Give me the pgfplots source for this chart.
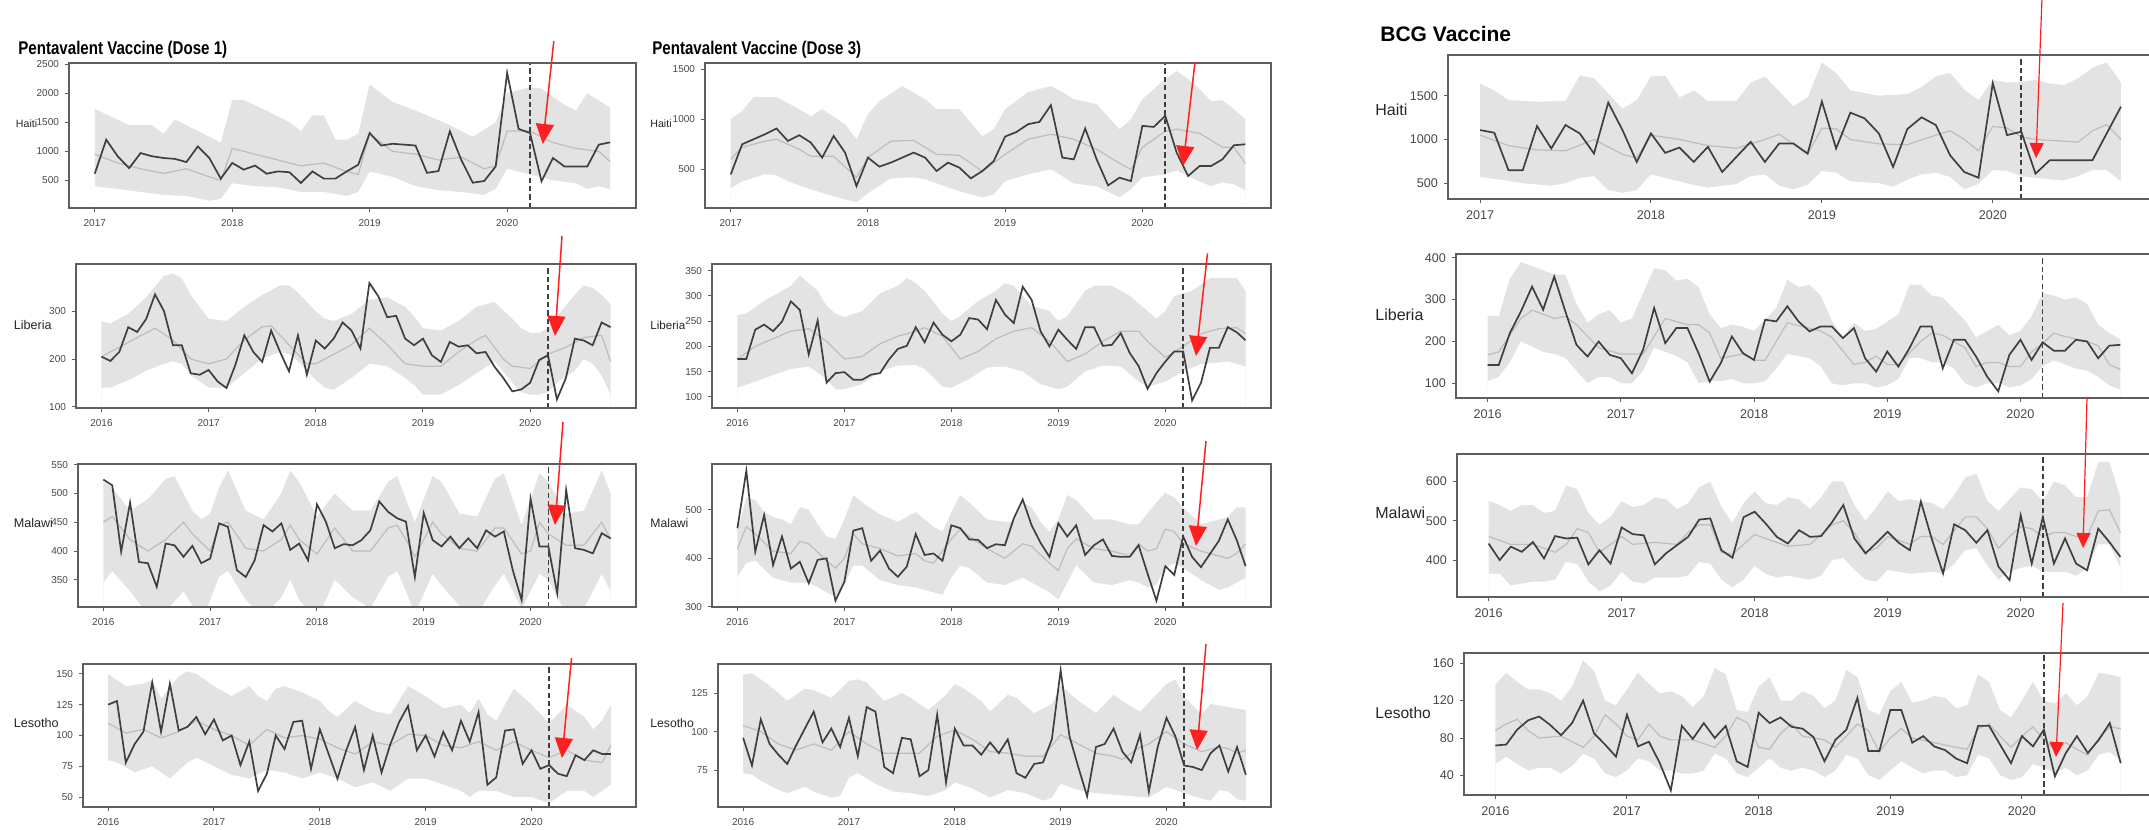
\documentclass[border=0pt]{standalone}
\usepackage{fontspec}
\setmainfont{Liberation Sans}
\usepackage{graphicx}
\usepackage{pgfplots}
\pgfplotsset{compat=1.18}
\usetikzlibrary{arrows.meta}
\definecolor{ribc}{HTML}{E3E3E3}
\definecolor{expc}{HTML}{BDBDBD}
\definecolor{obsc}{HTML}{3F3F3F}
\definecolor{framec}{HTML}{5E5E5E}
\definecolor{arrc}{HTML}{FF1F1F}
\pgfplotsset{
  panel/.style={
    scale only axis, anchor=south west, axis on top,
    axis line style={framec, line width=0.9pt},
    tick align=outside, xtick pos=left, ytick pos=left,
    major tick length=1.8pt,
    every tick/.style={framec, line width=0.5pt},
    /pgf/number format/assume math mode=true,
    /pgf/number format/1000 sep={},
    ticklabel style={font=\fontsize{5}{5}\selectfont, text=black!72},
    yticklabel style={xshift=0.3pt},
    xticklabel style={yshift=-0.5pt},
  },
  big/.style={ticklabel style={font=\fontsize{6.3}{6.3}\selectfont}},
  p16/.style={xmin=-2.85, xmax=59.85, xtick={0,12,24,36,48}, xticklabels={2016,2017,2018,2019,2020}},
  p17/.style={xmin=9.75, xmax=59.25, xtick={12,24,36,48}, xticklabels={2017,2018,2019,2020}},
  hi/.style={fill=ribc, draw=none, no markers},
  lo/.style={fill=white, draw=none, no markers},
  obs/.style={obsc, line width=0.85pt, no markers},
  expl/.style={expc, line width=0.6pt, no markers},
}
\tikzset{
  dsh/.style={obsc, line width=0.8pt, dash pattern=on 2.6pt off 1.6pt},
  arr/.style={arrc, line width=0.75pt, -{Triangle[width=9pt,length=10pt]}},
  arrb/.style={arrc, line width=0.6pt, -{Triangle[width=7pt,length=7.5pt]}},
  lab/.style={anchor=west, inner sep=0pt, text=black!85},
}
\begin{document}
\begin{tikzpicture}

% ---------------- Column 1: Pentavalent Dose 1 ----------------
\begin{axis}[panel, p17, at={(34.5pt,311pt)}, width=283.5pt, height=72.5pt,
  ymin=25, ymax=2520, ytick={500,1000,1500,2000,2500}]
\addplot[hi] coordinates {(12,1730) (15,1450) (17,1450) (18,1300) (19,1550) (21,1350) (23,1150) (24,1880) (25,1880) (27,1700) (29,1500) (30,1350) (31,1620) (32,1620) (33,1200) (34,1200) (35,1300) (36,2150) (38,1850) (40,1700) (41,1620) (43,1450) (45,1250) (47,1500) (48,2000) (50,2100) (51,2080) (53,1800) (54,1700) (55,2000) (57,1750)} \closedcycle;
\addplot[lo] coordinates {(12,400) (14,350) (16,300) (18,250) (20,230) (22,150) (23,180) (24,450) (26,400) (28,380) (30,300) (32,300) (34,230) (35,300) (36,650) (38,560) (40,400) (42,330) (44,300) (46,250) (47,350) (48,700) (50,600) (52,500) (54,450) (55,350) (56,400) (57,350)} \closedcycle;
\addplot[expl] coordinates {(12,950) (14,800) (16,700) (18,620) (20,700) (22,560) (23,500) (24,1050) (26,950) (28,850) (30,750) (32,800) (34,650) (35,600) (36,1300) (38,1000) (40,950) (42,850) (44,900) (46,700) (47,750) (48,1350) (50,1350) (52,1150) (54,1050) (56,1000) (57,820)};
\addplot[obs] coordinates {(12,615) (13,1200) (14,915) (15,710) (16,970) (17,915) (18,885) (19,870) (20,815) (21,1085) (22,885) (23,530) (24,800) (25,685) (26,755) (27,615) (28,655) (29,640) (30,455) (31,655) (32,530) (33,530) (34,655) (35,770) (36,1315) (37,1100) (38,1130) (39,1115) (40,1100) (41,630) (42,660) (43,1345) (44,850) (45,460) (46,490) (47,740) (48,2350) (49,1385) (50,1315) (51,485) (52,885) (53,740) (54,740) (55,740) (56,1115) (57,1155)};
\draw[dsh] (axis cs:50,25) -- (axis cs:50,2520);
\end{axis}

\begin{axis}[panel, p16, at={(38pt,211pt)}, width=280pt, height=72pt,
  ymin=97, ymax=400, ytick={100,200,300}]
\addplot[hi] coordinates {(0,280) (1,275) (3,295) (5,330) (7,375) (8,380) (9,370) (10,335) (12,285) (14,280) (16,310) (18,335) (20,355) (21,355) (22,340) (24,300) (25,285) (26,280) (28,295) (30,325) (32,330) (34,310) (35,290) (36,265) (38,260) (40,280) (42,310) (44,320) (46,285) (47,265) (48,255) (49,255) (50,265) (51,290) (53,335) (54,355) (55,350) (56,335) (57,315)} \closedcycle;
\addplot[lo] coordinates {(0,140) (1,140) (3,155) (5,175) (7,190) (8,195) (9,190) (10,165) (12,140) (14,140) (16,170) (18,200) (20,215) (21,210) (22,195) (24,155) (25,140) (26,135) (28,160) (30,190) (32,185) (34,160) (35,145) (36,125) (38,125) (40,145) (42,170) (44,195) (46,150) (47,130) (48,125) (49,125) (50,130) (51,150) (53,175) (54,200) (55,190) (56,165) (57,125)} \closedcycle;
\addplot[expl] coordinates {(0,205) (3,235) (6,265) (8,240) (10,200) (12,190) (14,200) (16,240) (18,268) (19,270) (21,230) (23,190) (24,190) (26,210) (28,230) (30,265) (32,230) (34,190) (36,185) (38,185) (40,215) (42,240) (43,250) (45,200) (46,185) (48,180) (50,210) (52,225) (54,245) (56,250) (57,195)};
\addplot[obs] coordinates {(0,205) (1,196) (2,215) (3,267) (4,257) (5,284) (6,336) (7,301) (8,229) (9,229) (10,170) (11,167) (12,177) (13,153) (14,139) (15,188) (16,250) (17,215) (18,194) (19,260) (20,215) (21,174) (22,250) (23,167) (24,239) (25,222) (26,243) (27,277) (28,260) (29,222) (30,360) (31,332) (32,288) (33,291) (34,243) (35,229) (36,243) (37,208) (38,194) (39,236) (40,226) (41,229) (42,212) (43,215) (44,184) (45,160) (46,132) (47,136) (48,150) (49,198) (50,208) (51,115) (52,160) (53,243) (54,239) (55,229) (56,277) (57,267)};
\draw[dsh] (axis cs:50,97) -- (axis cs:50,400);
\end{axis}

\begin{axis}[panel, p16, at={(39pt,111.5pt)}, width=279pt, height=71.5pt,
  ymin=303, ymax=551, ytick={350,400,450,500,550}]
\addplot[hi] coordinates {(0,520) (1,510) (3,470) (5,490) (7,525) (8,530) (10,470) (11,455) (12,465) (13,510) (14,540) (16,470) (18,455) (20,500) (21,540) (22,520) (24,460) (26,500) (28,470) (30,470) (32,520) (33,530) (35,450) (37,530) (38,520) (40,465) (42,460) (44,525) (45,535) (47,445) (49,535) (50,520) (52,465) (54,470) (56,540) (57,500)} \closedcycle;
\addplot[lo] coordinates {(0,345) (1,365) (3,330) (5,290) (7,295) (9,330) (10,305) (11,275) (13,355) (14,365) (16,315) (18,285) (20,320) (21,350) (22,315) (24,280) (26,350) (28,320) (30,300) (32,355) (33,365) (34,330) (35,290) (37,360) (38,340) (40,305) (42,290) (44,340) (45,360) (47,300) (49,360) (50,350) (52,290) (54,300) (56,360) (57,330)} \closedcycle;
\addplot[expl] coordinates {(0,450) (1,460) (3,420) (5,400) (7,420) (9,450) (10,430) (12,400) (13,445) (14,450) (16,405) (18,400) (20,420) (21,445) (22,420) (24,395) (26,440) (28,400) (30,400) (32,440) (33,445) (34,420) (35,390) (36,420) (37,450) (38,430) (40,405) (42,400) (44,440) (45,440) (47,395) (48,400) (49,450) (50,430) (52,410) (54,410) (56,450) (57,420)};
\addplot[obs] coordinates {(0,524) (1,514) (2,399) (3,484) (4,381) (5,379) (6,338) (7,413) (8,410) (9,390) (10,409) (11,379) (12,387) (13,448) (14,442) (15,367) (16,355) (17,384) (18,445) (19,434) (20,448) (21,402) (22,413) (23,384) (24,481) (25,451) (26,405) (27,412) (28,410) (29,419) (30,436) (31,486) (32,468) (33,457) (34,451) (35,355) (36,466) (37,419) (38,408) (39,425) (40,405) (41,422) (42,405) (43,436) (44,425) (45,434) (46,367) (47,315) (48,491) (49,408) (50,408) (51,327) (52,506) (53,405) (54,402) (55,396) (56,431) (57,422)};
\draw[dsh] (axis cs:50,303) -- (axis cs:50,551);
\end{axis}

\begin{axis}[panel, p16, at={(41.5pt,11.5pt)}, width=276.5pt, height=71.5pt,
  ymin=42, ymax=158, ytick={50,75,100,125,150}]
\addplot[hi] coordinates {(0,150) (2,140) (4,142) (5,145) (6,130) (8,148) (9,152) (10,150) (12,140) (14,132) (16,140) (17,132) (18,128) (19,138) (20,140) (22,135) (24,128) (25,120) (26,115) (28,128) (30,120) (32,117) (34,140) (36,132) (38,122) (40,125) (41,118) (42,130) (43,117) (44,112) (46,138) (48,125) (50,110) (52,125) (54,115) (55,105) (56,112) (57,125)} \closedcycle;
\addplot[lo] coordinates {(0,80) (1,78) (3,70) (5,75) (7,65) (9,78) (10,82) (12,75) (14,68) (16,65) (18,72) (20,70) (22,65) (24,70) (26,65) (28,58) (30,62) (32,55) (34,65) (36,65) (38,60) (40,55) (41,50) (42,55) (44,55) (46,50) (48,50) (50,45) (52,55) (54,55) (55,50) (56,55) (57,60)} \closedcycle;
\addplot[expl] coordinates {(0,110) (2,102) (4,105) (6,98) (8,103) (10,112) (12,105) (14,100) (16,92) (18,105) (20,98) (22,100) (24,97) (26,90) (28,85) (30,95) (32,92) (34,101) (36,100) (38,92) (40,90) (42,95) (44,88) (46,95) (48,88) (50,82) (52,88) (54,80) (56,78) (57,92)};
\addplot[obs] coordinates {(0,125) (1,128) (2,78) (3,93) (4,103) (5,143) (6,103) (7,142) (8,104) (9,107) (10,115) (11,101) (12,113) (13,96) (14,100) (15,76) (16,95) (17,55) (18,69) (19,100) (20,89) (21,111) (22,112) (23,73) (24,105) (25,85) (26,65) (27,88) (28,107) (29,72) (30,100) (31,70) (32,93) (33,111) (34,124) (35,88) (36,100) (37,83) (38,103) (39,88) (40,112) (41,95) (42,119) (43,60) (44,66) (45,104) (46,105) (47,77) (48,88) (49,73) (50,76) (51,69) (52,67) (53,84) (54,80) (55,88) (56,85) (57,85)};
\draw[dsh] (axis cs:50,42) -- (axis cs:50,158);
\end{axis}

% ---------------- Column 2: Pentavalent Dose 3 ----------------
\begin{axis}[panel, p17, at={(352.5pt,311pt)}, width=283pt, height=72.5pt,
  ymin=115, ymax=1560, ytick={500,1000,1500}]
\addplot[hi] coordinates {(12,1000) (13,1080) (14,1220) (16,1220) (18,1100) (19,1030) (20,1100) (22,950) (23,800) (24,1050) (25,1180) (27,1330) (29,1200) (30,1100) (32,1100) (34,830) (35,900) (36,1100) (38,1270) (40,1330) (41,1270) (42,1200) (44,1150) (46,900) (47,1000) (48,1200) (50,1400) (51,1480) (52,1400) (53,1300) (54,1180) (55,1190) (56,1100) (57,1000)} \closedcycle;
\addplot[lo] coordinates {(12,310) (13,380) (15,450) (16,440) (17,380) (19,300) (21,230) (23,170) (24,260) (26,410) (28,420) (29,400) (30,360) (32,280) (34,220) (35,250) (36,380) (38,450) (40,500) (42,360) (44,330) (46,220) (47,300) (48,420) (50,450) (51,490) (52,430) (54,330) (55,370) (56,350) (57,290)} \closedcycle;
\addplot[expl] coordinates {(12,600) (13,720) (15,780) (16,800) (18,700) (19,630) (21,630) (23,420) (24,620) (26,780) (28,790) (30,650) (32,640) (34,480) (36,650) (38,800) (40,850) (42,800) (44,700) (46,560) (47,500) (48,720) (50,880) (51,900) (53,860) (55,720) (56,720) (57,560)};
\addplot[obs] coordinates {(12,450) (13,750) (14,800) (15,850) (16,907) (17,783) (18,840) (19,767) (20,617) (21,833) (22,667) (23,333) (24,617) (25,527) (26,567) (27,617) (28,667) (29,617) (30,483) (31,567) (32,517) (33,410) (34,483) (35,583) (36,827) (37,873) (38,950) (39,973) (40,1140) (41,617) (42,600) (43,907) (44,600) (45,340) (46,417) (47,383) (48,933) (49,923) (50,1033) (51,667) (52,433) (53,533) (54,533) (55,600) (56,740) (57,750)};
\draw[dsh] (axis cs:50,115) -- (axis cs:50,1560);
\end{axis}

\begin{axis}[panel, p16, at={(356pt,211pt)}, width=279.5pt, height=72pt,
  ymin=78, ymax=363, ytick={100,150,200,250,300,350}]
\addplot[hi] coordinates {(0,262) (1,265) (3,290) (5,310) (6,320) (7,340) (8,325) (9,310) (10,280) (11,265) (12,258) (14,270) (16,305) (18,320) (19,335) (20,325) (21,310) (23,265) (24,250) (25,260) (27,290) (29,310) (30,325) (31,320) (33,280) (35,270) (36,250) (37,260) (39,310) (40,320) (42,320) (44,300) (45,285) (47,255) (48,270) (49,300) (51,310) (53,335) (55,335) (56,335) (57,310)} \closedcycle;
\addplot[lo] coordinates {(0,118) (2,130) (4,143) (6,155) (8,160) (10,135) (11,115) (12,115) (14,125) (16,150) (18,162) (20,163) (21,155) (23,120) (24,118) (26,135) (28,158) (30,160) (32,150) (34,125) (36,115) (37,120) (39,150) (41,162) (43,160) (45,130) (46,120) (48,130) (50,150) (52,165) (54,168) (55,170) (57,160)} \closedcycle;
\addplot[expl] coordinates {(0,175) (2,200) (4,215) (6,230) (8,235) (10,210) (12,175) (14,180) (16,205) (18,220) (20,230) (21,237) (23,220) (25,175) (27,190) (29,215) (31,230) (33,237) (35,210) (37,170) (39,185) (41,210) (43,230) (45,230) (46,210) (48,178) (50,200) (52,225) (54,235) (56,237) (57,225)};
\addplot[obs] coordinates {(0,175) (1,175) (2,233) (3,243) (4,230) (5,249) (6,289) (7,272) (8,184) (9,251) (10,128) (11,147) (12,149) (13,134) (14,134) (15,144) (16,147) (17,174) (18,195) (19,201) (20,238) (21,208) (22,247) (23,223) (24,210) (25,223) (26,256) (27,253) (28,234) (29,292) (30,263) (31,246) (32,318) (33,292) (34,230) (35,200) (36,233) (37,213) (38,195) (39,238) (40,238) (41,201) (42,203) (43,226) (44,187) (45,161) (46,116) (47,147) (48,170) (49,190) (50,190) (51,93) (52,128) (53,197) (54,197) (55,238) (56,228) (57,212)};
\draw[dsh] (axis cs:50,78) -- (axis cs:50,363);
\end{axis}

\begin{axis}[panel, p16, at={(356pt,111.5pt)}, width=279.5pt, height=71.5pt,
  ymin=300, ymax=594, ytick={300,400,500}]
\addplot[hi] coordinates {(0,460) (1,525) (2,520) (3,495) (4,485) (5,480) (6,470) (7,505) (8,500) (9,470) (10,445) (11,440) (12,480) (13,530) (14,515) (16,490) (18,475) (20,495) (21,480) (22,465) (23,455) (24,495) (25,530) (26,515) (28,480) (30,475) (31,475) (32,515) (33,505) (34,475) (35,455) (36,480) (37,530) (38,520) (40,480) (42,480) (44,470) (45,470) (47,515) (48,535) (49,525) (50,505) (52,470) (54,480) (55,485) (56,505) (57,505)} \closedcycle;
\addplot[lo] coordinates {(0,362) (1,390) (2,395) (4,360) (6,350) (8,350) (10,330) (11,320) (12,345) (13,385) (14,385) (16,355) (18,345) (20,340) (22,330) (23,325) (24,360) (25,385) (26,380) (28,350) (30,345) (32,360) (34,340) (35,330) (36,315) (37,350) (38,385) (40,350) (42,345) (44,355) (45,350) (46,340) (47,345) (48,380) (49,390) (50,380) (52,355) (53,345) (54,335) (55,340) (56,350) (57,360)} \closedcycle;
\addplot[expl] coordinates {(0,420) (1,465) (2,450) (4,415) (6,410) (7,435) (8,430) (10,395) (11,380) (12,400) (13,450) (14,430) (16,420) (18,405) (20,410) (21,395) (22,390) (24,440) (25,460) (26,445) (28,420) (30,400) (32,430) (33,425) (35,390) (36,375) (37,420) (38,440) (40,420) (42,415) (44,405) (45,430) (46,415) (47,420) (48,460) (49,455) (50,430) (52,415) (54,405) (55,400) (56,410) (57,430)};
\addplot[obs] coordinates {(0,462) (1,580) (2,414) (3,489) (4,386) (5,445) (6,379) (7,393) (8,349) (9,397) (10,400) (11,313) (12,352) (13,457) (14,462) (15,395) (16,416) (17,379) (18,362) (19,383) (20,450) (21,407) (22,410) (23,395) (24,468) (25,462) (26,439) (27,438) (28,421) (29,429) (30,427) (31,482) (32,521) (33,468) (34,432) (35,403) (36,472) (37,445) (38,468) (39,407) (40,427) (41,439) (42,405) (43,403) (44,403) (45,427) (46,369) (47,313) (48,384) (49,366) (50,445) (51,403) (52,382) (53,409) (54,436) (55,480) (56,438) (57,384)};
\draw[dsh] (axis cs:50,300) -- (axis cs:50,594);
\end{axis}

\begin{axis}[panel, p16, at={(359pt,11.5pt)}, width=276.5pt, height=71.5pt,
  ymin=51, ymax=144, ytick={75,100,125}]
\addplot[hi] coordinates {(0,137) (1,138) (3,130) (5,120) (7,128) (8,127) (10,122) (12,133) (13,134) (14,132) (16,120) (18,125) (19,122) (21,114) (23,124) (24,131) (25,128) (27,120) (28,113) (30,124) (31,122) (33,112) (35,118) (36,130) (38,120) (40,112) (42,124) (43,120) (45,113) (47,125) (48,131) (49,134) (50,123) (52,111) (53,118) (54,117) (56,115) (57,114)} \closedcycle;
\addplot[lo] coordinates {(0,73) (1,72) (2,68) (4,62) (5,60) (7,64) (8,61) (10,57) (11,58) (12,70) (13,73) (15,66) (17,61) (19,60) (21,58) (22,60) (23,62) (24,67) (26,63) (28,57) (30,62) (32,60) (34,55) (35,57) (36,66) (38,62) (40,60) (42,59) (44,58) (46,57) (48,64) (49,62) (51,58) (53,55) (54,62) (55,61) (56,56) (57,55)} \closedcycle;
\addplot[expl] coordinates {(0,104) (2,100) (4,92) (6,88) (8,92) (10,88) (12,100) (14,92) (16,86) (18,86) (20,86) (22,97) (24,101) (26,95) (28,87) (30,86) (32,84) (34,84) (36,98) (38,92) (40,86) (42,84) (43,82) (45,90) (46,92) (48,100) (50,92) (52,87) (54,90) (55,89) (56,86) (57,88)};
\addplot[obs] coordinates {(0,96) (1,78) (2,108) (3,92) (4,85) (5,79) (6,91) (7,102) (8,113) (9,93) (10,102) (11,90) (12,109) (13,84) (14,116) (15,113) (16,77) (17,73) (18,96) (19,95) (20,71) (21,75) (22,111) (23,67) (24,102) (25,91) (26,91) (27,85) (28,93) (29,86) (30,95) (31,73) (32,70) (33,79) (34,80) (35,95) (36,140) (37,97) (38,77) (39,58) (40,90) (41,92) (42,102) (43,87) (44,80) (45,98) (46,61) (47,90) (48,109) (49,97) (50,78) (51,77) (52,75) (53,86) (54,91) (55,74) (56,90) (57,72)};
\draw[dsh] (axis cs:50,51) -- (axis cs:50,144);
\end{axis}

% ---------------- Column 3: BCG ----------------
\begin{axis}[panel, big, p17, at={(724pt,315.5pt)}, width=352.5pt, height=72pt,
  ymin=320, ymax=1965, ytick={500,1000,1500}]
\addplot[hi] coordinates {(12,1640) (13,1560) (14,1450) (16,1430) (18,1440) (19,1730) (20,1700) (22,1350) (23,1450) (24,1720) (25,1730) (26,1480) (27,1560) (28,1440) (30,1440) (31,1650) (32,1720) (34,1380) (35,1480) (36,1880) (37,1760) (38,1560) (40,1500) (42,1520) (43,1600) (44,1720) (45,1760) (46,1570) (47,1450) (48,1680) (49,1650) (50,1660) (51,1680) (52,1640) (53,1620) (54,1700) (55,1820) (56,1880) (57,1650)} \closedcycle;
\addplot[lo] coordinates {(12,570) (13,550) (15,500) (17,470) (18,500) (19,560) (20,580) (21,420) (22,390) (23,420) (24,600) (25,560) (27,480) (28,450) (30,490) (31,580) (32,600) (33,470) (34,430) (35,480) (36,640) (37,620) (38,520) (40,500) (41,460) (42,540) (43,600) (44,620) (45,570) (46,430) (47,490) (48,650) (49,640) (50,580) (51,560) (53,530) (54,580) (55,650) (56,650) (57,520)} \closedcycle;
\addplot[expl] coordinates {(12,1050) (14,930) (16,880) (18,870) (20,1000) (22,830) (23,790) (24,1050) (26,1000) (28,930) (30,900) (32,1000) (33,1060) (35,830) (36,1130) (37,1120) (38,1000) (40,950) (42,940) (44,1050) (45,1100) (46,1000) (47,870) (48,1150) (49,1130) (50,1030) (51,1000) (53,980) (54,970) (55,1100) (56,1170) (57,1000)};
\addplot[obs] coordinates {(12,1107) (13,1077) (14,648) (15,648) (16,1153) (17,897) (18,1165) (19,1069) (20,839) (21,1421) (22,1107) (23,743) (24,1069) (25,847) (26,908) (27,743) (28,916) (29,628) (30,801) (31,973) (32,743) (33,954) (34,954) (35,839) (36,1433) (37,897) (38,1306) (39,1241) (40,1069) (41,686) (42,1119) (43,1253) (44,1165) (45,820) (46,628) (47,563) (48,1643) (49,1050) (50,1088) (51,609) (52,763) (53,763) (54,763) (55,763) (56,1069) (57,1375)};
\draw[dsh] (axis cs:50,320) -- (axis cs:50,1965);
\end{axis}

\begin{axis}[panel, big, p16, at={(728pt,216pt)}, width=348pt, height=72pt,
  ymin=65, ymax=409, ytick={100,200,300,400}]
\addplot[hi] coordinates {(0,262) (1,260) (2,350) (3,390) (5,370) (6,360) (7,360) (8,290) (9,245) (10,265) (11,275) (12,245) (13,255) (15,375) (16,370) (17,345) (18,350) (19,330) (20,265) (21,232) (22,240) (23,235) (24,225) (26,280) (27,348) (28,330) (29,335) (30,310) (31,250) (32,210) (33,245) (34,225) (35,230) (37,265) (38,335) (39,335) (40,310) (41,305) (43,250) (44,210) (45,225) (46,240) (47,215) (48,225) (49,260) (50,315) (51,310) (52,300) (53,305) (54,290) (55,240) (56,220) (57,205)} \closedcycle;
\addplot[lo] coordinates {(0,105) (1,115) (2,150) (3,200) (5,175) (6,170) (7,160) (8,130) (9,100) (10,115) (11,115) (12,100) (13,100) (14,130) (15,185) (16,175) (17,165) (18,150) (19,100) (20,105) (21,105) (22,110) (23,100) (24,100) (25,105) (26,135) (27,170) (28,165) (29,160) (30,140) (31,100) (32,95) (33,100) (34,100) (35,90) (36,95) (37,110) (38,160) (39,160) (40,150) (41,150) (42,135) (43,100) (44,90) (45,100) (46,100) (47,90) (48,95) (49,110) (50,140) (51,155) (52,145) (53,135) (54,130) (55,115) (56,95) (57,85)} \closedcycle;
\addplot[expl] coordinates {(0,168) (1,175) (3,255) (4,275) (6,255) (7,260) (8,240) (10,185) (12,170) (14,170) (16,255) (18,240) (19,240) (20,220) (21,160) (23,170) (24,155) (25,155) (27,245) (28,238) (30,225) (31,210) (33,145) (34,150) (35,165) (36,145) (37,145) (39,200) (40,220) (41,215) (43,185) (44,140) (45,150) (46,150) (47,140) (48,140) (49,175) (50,195) (51,220) (52,212) (54,200) (55,190) (56,145) (57,133)};
\addplot[obs] coordinates {(0,144) (1,144) (2,220) (3,272) (4,331) (5,276) (6,355) (7,272) (8,192) (9,164) (10,200) (11,168) (12,160) (13,124) (14,180) (15,280) (16,196) (17,232) (18,232) (19,172) (20,104) (21,148) (22,212) (23,172) (24,156) (25,252) (26,248) (27,284) (28,248) (29,224) (30,236) (31,236) (32,208) (33,232) (34,160) (35,128) (36,176) (37,140) (38,184) (39,236) (40,236) (41,136) (42,204) (43,204) (44,164) (45,116) (46,81) (47,168) (48,204) (49,156) (50,198) (51,178) (52,178) (53,204) (54,200) (55,160) (56,190) (57,192)};
\draw[dsh] (axis cs:50,65) -- (axis cs:50,409);
\end{axis}

\begin{axis}[panel, big, p16, at={(728.5pt,116.5pt)}, width=347.5pt, height=71.5pt,
  ymin=306, ymax=670, ytick={400,500,600}]
\addplot[hi] coordinates {(0,550) (1,540) (2,525) (3,540) (4,540) (5,520) (6,525) (7,590) (8,580) (9,520) (10,490) (11,510) (12,550) (13,535) (14,540) (15,560) (16,555) (17,530) (18,545) (19,585) (20,600) (21,535) (22,495) (23,545) (24,575) (25,545) (26,540) (27,560) (28,555) (29,530) (30,560) (31,600) (32,600) (33,540) (34,500) (35,535) (36,575) (37,550) (38,555) (40,545) (41,530) (42,565) (43,610) (44,620) (45,550) (46,525) (47,555) (48,585) (49,580) (50,550) (51,600) (52,590) (53,560) (54,560) (55,650) (56,650) (57,560)} \closedcycle;
\addplot[lo] coordinates {(0,365) (1,365) (2,335) (3,340) (4,345) (5,345) (6,350) (7,395) (8,390) (9,345) (10,320) (11,335) (12,370) (13,345) (14,340) (15,355) (16,355) (17,355) (18,360) (19,395) (20,390) (21,350) (22,330) (23,350) (24,385) (25,365) (26,355) (27,360) (28,355) (29,350) (30,360) (31,400) (32,405) (33,375) (34,350) (35,345) (36,375) (37,370) (38,365) (40,370) (41,365) (42,390) (43,425) (44,430) (45,385) (46,350) (47,370) (48,380) (49,385) (50,370) (51,370) (52,370) (53,360) (54,380) (55,440) (56,440) (57,380)} \closedcycle;
\addplot[expl] coordinates {(0,460) (2,440) (4,440) (6,420) (7,440) (8,480) (9,470) (10,420) (12,460) (13,440) (15,445) (17,440) (18,470) (19,490) (20,490) (21,420) (22,415) (23,440) (24,465) (25,455) (27,435) (29,440) (31,490) (32,500) (33,470) (34,420) (35,430) (36,460) (37,450) (38,440) (39,460) (40,460) (41,440) (43,510) (44,510) (45,480) (46,430) (47,460) (48,485) (49,480) (50,460) (51,470) (52,470) (53,460) (54,460) (55,525) (56,528) (57,470)};
\addplot[obs] coordinates {(0,442) (1,400) (2,434) (3,421) (4,446) (5,404) (6,461) (7,455) (8,457) (9,389) (10,425) (11,391) (12,483) (13,466) (14,463) (15,389) (16,417) (17,438) (18,459) (19,503) (20,506) (21,425) (22,406) (23,509) (24,523) (25,493) (26,459) (27,442) (28,476) (29,459) (30,461) (31,497) (32,540) (33,455) (34,417) (35,444) (36,472) (37,444) (38,425) (39,549) (40,452) (41,366) (42,491) (43,476) (44,444) (45,476) (46,383) (47,349) (48,514) (49,391) (50,509) (51,391) (52,455) (53,391) (54,374) (55,480) (56,446) (57,408)};
\draw[dsh] (axis cs:50,306) -- (axis cs:50,670);
\end{axis}

\begin{axis}[panel, big, p16, at={(732pt,17.5pt)}, width=344pt, height=71pt,
  ymin=19, ymax=171, ytick={40,80,120,160}]
\addplot[hi] coordinates {(0,137) (1,150) (2,140) (3,132) (4,132) (5,128) (6,120) (7,135) (8,163) (9,152) (10,120) (11,115) (12,132) (13,150) (14,138) (15,128) (16,130) (17,125) (18,113) (19,125) (20,155) (21,148) (22,110) (23,108) (24,135) (25,145) (26,120) (27,120) (28,130) (29,125) (30,112) (31,120) (32,153) (33,145) (34,110) (35,105) (36,130) (37,140) (38,118) (39,120) (40,125) (41,123) (42,112) (43,115) (44,148) (45,140) (46,110) (47,102) (48,120) (49,140) (50,120) (51,117) (52,128) (53,115) (54,125) (55,150) (56,148) (57,145)} \closedcycle;
\addplot[lo] coordinates {(0,52) (1,60) (2,52) (3,45) (4,48) (5,48) (6,42) (7,50) (8,63) (9,58) (10,42) (11,38) (12,45) (13,58) (14,55) (15,45) (16,45) (17,42) (18,42) (19,45) (20,63) (21,58) (22,42) (23,38) (24,48) (25,58) (26,48) (27,45) (28,48) (29,45) (30,38) (31,45) (32,62) (33,58) (34,40) (35,35) (36,45) (37,55) (38,48) (39,42) (40,45) (41,45) (42,38) (43,40) (44,62) (45,58) (46,40) (47,35) (48,38) (49,52) (50,48) (51,42) (52,48) (53,40) (54,45) (55,62) (56,65) (57,55)} \closedcycle;
\addplot[expl] coordinates {(0,88) (1,95) (2,100) (3,88) (4,80) (6,82) (8,70) (9,82) (10,105) (11,95) (12,82) (13,78) (14,95) (15,82) (16,78) (18,78) (20,70) (21,82) (22,102) (23,96) (24,70) (25,68) (26,85) (27,95) (28,82) (30,78) (31,70) (32,82) (33,95) (34,88) (35,65) (36,80) (37,90) (38,80) (40,75) (42,70) (43,68) (44,90) (45,95) (46,82) (47,70) (48,82) (49,92) (50,78) (51,68) (52,75) (53,68) (54,62) (55,80) (56,92) (57,90)};
\addplot[obs] coordinates {(0,72) (1,73) (2,89) (3,99) (4,103) (5,94) (6,83) (7,96) (8,120) (9,85) (10,73) (11,60) (12,105) (13,71) (14,76) (15,53) (16,24) (17,93) (18,79) (19,96) (20,80) (21,93) (22,55) (23,49) (24,107) (25,96) (26,102) (27,92) (28,90) (29,81) (30,55) (31,78) (32,89) (33,123) (34,66) (35,66) (36,110) (37,110) (38,75) (39,82) (40,71) (41,67) (42,58) (43,53) (44,93) (45,93) (46,73) (47,53) (48,82) (49,71) (50,89) (51,39) (52,64) (53,82) (54,64) (55,78) (56,96) (57,53)};
\draw[dsh] (axis cs:50,19) -- (axis cs:50,171);
\end{axis}

% ---------------- titles and row labels ----------------
\node[anchor=base west, inner sep=0pt] at (9pt,387.5pt) {\fontsize{9.2}{9.2}\selectfont\bfseries\scalebox{0.82}[1]{Pentavalent Vaccine (Dose 1)}};
\node[anchor=base west, inner sep=0pt] at (326pt,387.5pt) {\fontsize{9.2}{9.2}\selectfont\bfseries\scalebox{0.82}[1]{Pentavalent Vaccine (Dose 3)}};
\node[anchor=base west, inner sep=0pt] at (690pt,394pt) {\fontsize{10.5}{10.5}\selectfont\bfseries BCG Vaccine};

\node[lab, font=\fontsize{5.3}{5.3}\selectfont] at (7.8pt,353pt) {Haiti};
\node[lab, font=\fontsize{6.3}{6.3}\selectfont] at (6.7pt,252.5pt) {Liberia};
\node[lab, font=\fontsize{6.3}{6.3}\selectfont] at (6.7pt,153.5pt) {Malawi};
\node[lab, font=\fontsize{6.3}{6.3}\selectfont] at (6.7pt,53.5pt) {Lesotho};

\node[lab, font=\fontsize{5.3}{5.3}\selectfont] at (325pt,353pt) {Haiti};
\node[lab, font=\fontsize{5.8}{5.8}\selectfont] at (325pt,252.5pt) {Liberia};
\node[lab, font=\fontsize{6.1}{6.1}\selectfont] at (325pt,153.5pt) {Malawi};
\node[lab, font=\fontsize{6.1}{6.1}\selectfont] at (325pt,53.5pt) {Lesotho};

\node[lab, font=\fontsize{8}{8}\selectfont] at (687.5pt,360pt) {Haiti};
\node[lab, font=\fontsize{8}{8}\selectfont] at (687.5pt,257.5pt) {Liberia};
\node[lab, font=\fontsize{8}{8}\selectfont] at (687.5pt,158.5pt) {Malawi};
\node[lab, font=\fontsize{7.8}{7.8}\selectfont] at (687.5pt,58.5pt) {Lesotho};

% ---------------- red arrows ----------------
\draw[arr] (276.9pt,394.5pt) -- (271.4pt,343pt);
\draw[arr] (281pt,297pt) -- (277.5pt,247pt);
\draw[arr] (281.5pt,204pt) -- (277.5pt,152.5pt);
\draw[arr] (285.75pt,86pt) -- (281pt,36pt);
\draw[arr] (597.5pt,384pt) -- (591.5pt,332pt);
\draw[arr] (603.75pt,288.25pt) -- (598pt,237pt);
\draw[arr] (603pt,194.5pt) -- (598pt,142pt);
\draw[arr] (603pt,93pt) -- (598.5pt,40pt);
\draw[arrb] (1021pt,416pt) -- (1018pt,336pt);
\draw[arrb] (1043.5pt,216.5pt) -- (1041.5pt,141pt);
\draw[arrb] (1031.5pt,113.5pt) -- (1028pt,36.5pt);

\pgfresetboundingbox
\useasboundingbox (0,0) rectangle (1074.5pt,415pt);
\end{tikzpicture}
\end{document}
